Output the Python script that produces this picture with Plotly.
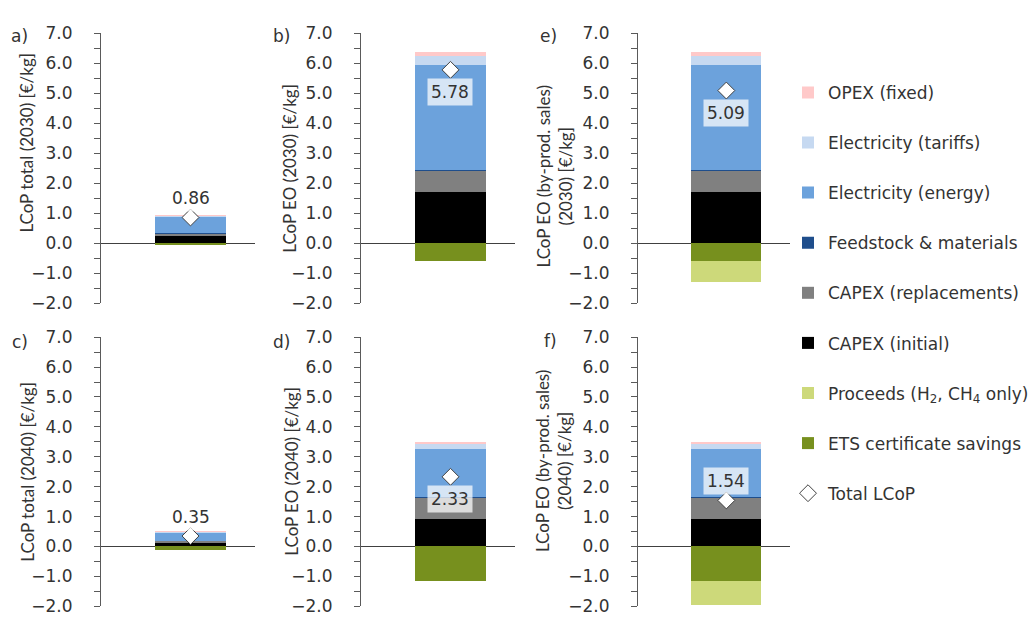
import plotly.graph_objects as go
from plotly.subplots import make_subplots

W, H = 1035, 624

# Cost components per panel (€/kg), order: a, b, e, c, d, f
panels = ["a)", "b)", "e)", "c)", "d)", "f)"]
y_titles = [
    "LCoP total (2030) [€/kg]",
    "LCoP EO (2030) [€/kg]",
    "LCoP EO (by-prod. sales)<br>(2030) [€/kg]",
    "LCoP total (2040) [€/kg]",
    "LCoP EO (2040) [€/kg]",
    "LCoP EO (by-prod. sales)<br>(2040) [€/kg]",
]
capex_initial = [0.24, 1.69, 1.69, 0.10, 0.92, 0.92]
capex_replacements = [0.08, 0.73, 0.73, 0.08, 0.70, 0.70]
feedstock = [0.01, 0.03, 0.03, 0.01, 0.03, 0.03]
electricity_energy = [0.57, 3.50, 3.50, 0.27, 1.62, 1.62]
electricity_tariffs = [0.01, 0.29, 0.29, 0.02, 0.15, 0.15]
opex_fixed = [0.01, 0.14, 0.14, 0.01, 0.08, 0.08]
ets_savings = [-0.06, -0.60, -0.60, -0.14, -1.17, -1.17]
proceeds = [0.0, 0.0, -0.69, 0.0, 0.0, -0.79]
total_lcop = [0.86, 5.78, 5.09, 0.35, 2.33, 1.54]
label_above = [True, False, False, True, False, True]

# (name, values, colour, legend rank)
series = [
    ("CAPEX (initial)", capex_initial, "#000000", 6),
    ("CAPEX (replacements)", capex_replacements, "#808080", 5),
    ("Feedstock & materials", feedstock, "#1F4E8C", 4),
    ("Electricity (energy)", electricity_energy, "#6CA2DC", 3),
    ("Electricity (tariffs)", electricity_tariffs, "#C6D9F1", 2),
    ("OPEX (fixed)", opex_fixed, "#FFC9C9", 1),
    ("ETS certificate savings", ets_savings, "#77901E", 8),
    ("Proceeds (H<sub>2</sub>, CH<sub>4</sub> only)", proceeds, "#CDD97A", 7),
]

FONT = "DejaVu Sans"      # horizontal text
FONT_V = "Lato"           # rotated axis titles
TXT = "#333333"
AX = "#5a5a5a"

fig = make_subplots(rows=2, cols=3)

for i in range(6):
    r, c = i // 3 + 1, i % 3 + 1
    for name, vals, col, rank in series:
        fig.add_trace(go.Bar(
            x=[0], y=[vals[i]], width=0.5, name=name,
            marker=dict(color=col, line=dict(width=0)),
            legendgroup=name, legendrank=rank, showlegend=(i == 0),
            hoverinfo="y+name",
        ), row=r, col=c)
    fig.add_trace(go.Scatter(
        x=[0], y=[total_lcop[i]], mode="markers", name="Total LCoP",
        marker=dict(symbol="diamond", size=13, color="white",
                    line=dict(color="#404040", width=1)),
        legendgroup="Total LCoP", legendrank=9, showlegend=(i == 0),
    ), row=r, col=c)

# plot-area positions in pixels: (left, right) per column, (top, bottom) per row
cols_px = [(101, 255), (361, 515), (638, 790)]
rows_px = [(24, 303), (338, 616)]

annotations = []
for i in range(6):
    ri, ci = i // 3, i % 3
    ax_suffix = "" if i == 0 else str(i + 1)
    x0, x1 = cols_px[ci]
    y0, y1 = rows_px[ri]
    fig.layout["xaxis" + ax_suffix].update(
        domain=[x0 / W, x1 / W], range=[-0.63, 0.454],
        visible=False, fixedrange=True,
    )
    fig.layout["yaxis" + ax_suffix].update(
        domain=[1 - y1 / H, 1 - y0 / H], range=[-2, 7],
        tickmode="linear", tick0=0, dtick=1, tickformat=".1f",
        ticks="outside", ticklen=6, tickcolor=AX, tickwidth=1,
        minor=dict(dtick=0.5, ticks="outside", ticklen=6, tickcolor=AX, tickwidth=1),
        showline=True, linecolor=AX, linewidth=1,
        showgrid=False, zeroline=True, zerolinecolor="#404040", zerolinewidth=1,
        tickfont=dict(family=FONT, size=17, color=TXT),
        ticklabelstandoff=18,
    )
    # value label for total LCoP
    annotations.append(dict(
        x=0, y=total_lcop[i], xref="x" + ax_suffix, yref="y" + ax_suffix,
        text=f"{total_lcop[i]:.2f}", showarrow=False,
        yshift=19 if label_above[i] else -22,
        bgcolor="rgba(255,255,255,0.72)", borderpad=3,
        font=dict(family=FONT, size=17, color=TXT),
    ))

# panel letters
letter_pos = [(19, 27), (281, 27), (548, 27), (20, 343), (281, 343), (550, 342)]
for lab, (px, py) in zip(panels, letter_pos):
    annotations.append(dict(
        x=px / W, y=1 - py / H, xref="paper", yref="paper", text=lab,
        showarrow=False, xanchor="center", yanchor="middle",
        font=dict(family=FONT, size=17, color=TXT),
    ))

# axis titles
title_pos = [(27, 137), (290, 164), (554, 172), (28, 477), (292, 477), (553, 466)]
for t, (px, py) in zip(y_titles, title_pos):
    annotations.append(dict(
        x=px / W, y=1 - py / H, xref="paper", yref="paper", text=t,
        showarrow=False, textangle=-90, xanchor="center", yanchor="middle",
        font=dict(family=FONT_V, size=17, color=TXT),
    ))

fig.update_layout(
    width=W, height=H, margin=dict(l=0, r=0, t=0, b=0),
    paper_bgcolor="white", plot_bgcolor="white",
    barmode="relative", bargap=0,
    annotations=annotations,
    legend=dict(
        x=788 / W, y=1 - 67 / H, xanchor="left", yanchor="top",
        font=dict(family=FONT, size=17, color=TXT),
        tracegroupgap=25, bgcolor="rgba(0,0,0,0)",
    ),
    font=dict(family=FONT, color=TXT),
)

fig.write_html("out.html")
